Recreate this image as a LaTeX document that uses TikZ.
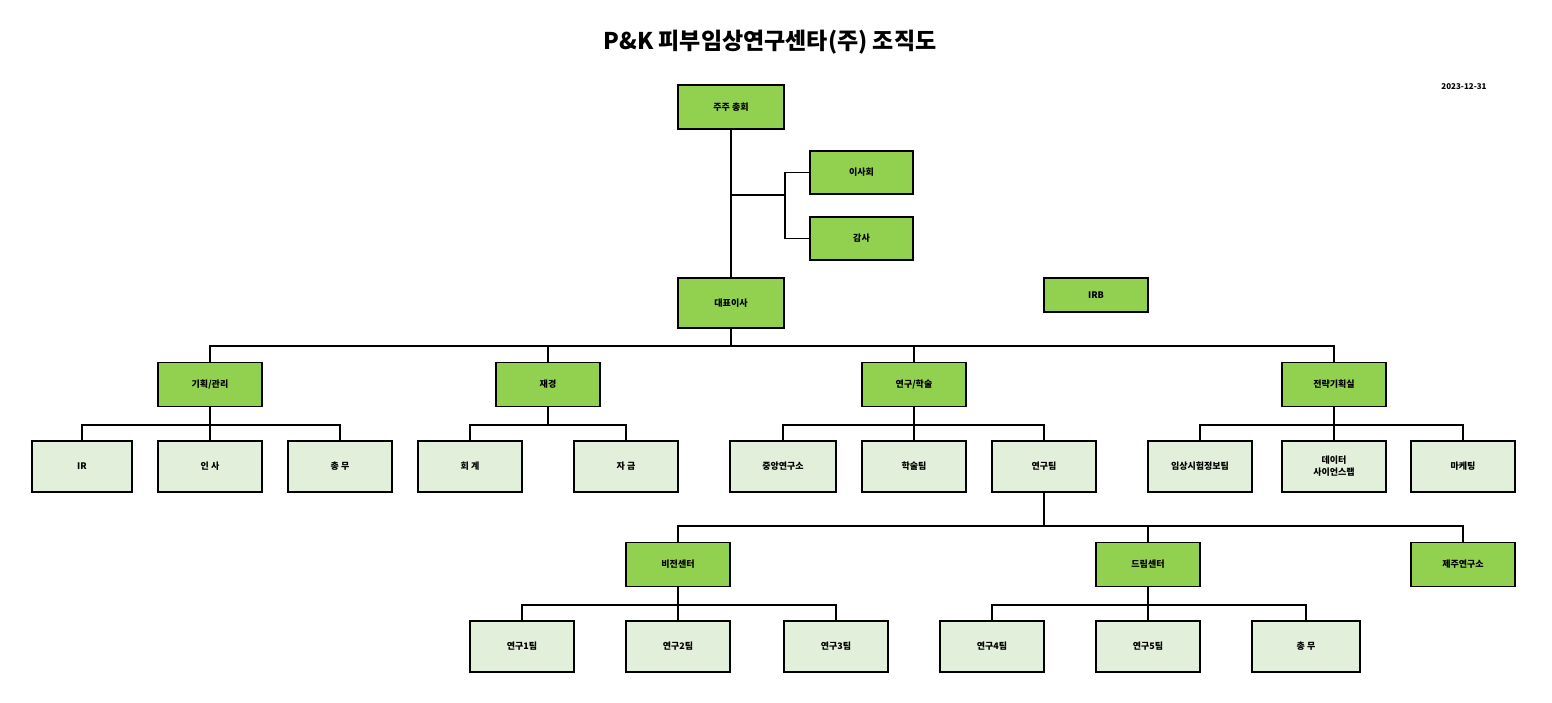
\documentclass[tikz,border=0pt]{standalone}
\usepackage{fontspec}
\setmainfont{Noto Sans CJK KR}
\definecolor{gfill}{HTML}{92D050}
\definecolor{lfill}{HTML}{E2EFDA}
\begin{document}
\begin{tikzpicture}[x=1pt,y=-1pt,
 box/.style={draw,line width=1.6pt,minimum width=104pt,minimum height=44pt,inner sep=1pt,font=\bfseries\fontsize{9}{12}\selectfont,align=center},
 gbox/.style={box,fill=gfill},
 lbox/.style={box,fill=lfill,minimum height=51pt},
 ln/.style={line width=1.4pt}]
\useasboundingbox (0,0) rectangle (1552,702);
\node[font=\bfseries\fontsize{23}{28}\selectfont] (title) at (770,42) {P\&K 피부임상연구센타(주) 조직도};
\node[font=\bfseries\fontsize{8}{10}\selectfont] (date) at (1464,87) {2023-12-31};
\node[gbox,minimum width=106pt] (ju) at (731,107) {주주 총회};
\node[gbox,minimum width=103pt,minimum height=43pt] (isa) at (861.5,172.5) {이사회};
\node[gbox,minimum width=103pt,minimum height=43pt] (gam) at (861.5,238.5) {감사};
\node[gbox,minimum width=106pt,minimum height=50pt] (ceo) at (731,303) {대표이사};
\node[gbox,minimum height=34pt] (irb) at (1096,295) {IRB};
\node[gbox] (gh) at (210,384.5) {기획/관리};
\node[gbox] (jk) at (548,384.5) {재경};
\node[gbox] (yh) at (914,384.5) {연구/학술};
\node[gbox] (jr) at (1334,384.5) {전략기획실};
\node[lbox,minimum width=100pt] (ir) at (82,466.5) {IR};
\node[lbox] (insa) at (210,466.5) {인 사};
\node[lbox] (cm1) at (340,466.5) {총 무};
\node[lbox] (hg) at (470,466.5) {회 계};
\node[lbox] (jg) at (626,466.5) {자 금};
\node[lbox,minimum width=106pt] (jy) at (783,466.5) {중앙연구소};
\node[lbox] (hs) at (914,466.5) {학술팀};
\node[lbox] (yt) at (1044,466.5) {연구팀};
\node[lbox] (im) at (1200,466.5) {임상시험정보팀};
\node[lbox] (dt) at (1334,466.5) {데이터\\사이언스랩};
\node[lbox] (mk) at (1463,466.5) {마케팅};
\node[gbox] (vs) at (678,564.5) {비전센터};
\node[gbox] (dr) at (1148,564.5) {드림센터};
\node[gbox] (jj) at (1463,564.5) {제주연구소};
\node[lbox] (y1) at (522,646.5) {연구1팀};
\node[lbox] (y2) at (678,646.5) {연구2팀};
\node[lbox] (y3) at (836,646.5) {연구3팀};
\node[lbox] (y4) at (992,646.5) {연구4팀};
\node[lbox] (y5) at (1148,646.5) {연구5팀};
\node[lbox,minimum width=108pt] (cm2) at (1306,646.5) {총 무};
% board
\draw[ln] (ju.south) -- (ceo.north);
\coordinate (bj) at (731,195);
\coordinate (bk) at (785,195);
\draw[ln] (bj) -- (bk);
\draw[ln] (isa.west) -| (bk) |- (gam.west);
% level 2
\coordinate (b2) at (731,346);
\draw[ln] (ceo.south) -- (b2);
\foreach \n in {gh,jk,yh,jr} \draw[ln] (\n.north) |- (b2);
% level 3
\foreach \p/\cs in {gh/{ir,insa,cm1},jk/{hg,jg},yh/{jy,hs,yt},jr/{im,dt,mk}} {
  \draw[ln] (\p.south) -- ++(0,17.5) coordinate (c\p);
  \foreach \c in \cs \draw[ln] (\c.north) |- (c\p);
}
% level 4
\draw[ln] (yt.south) -- ++(0,33) coordinate (cyt);
\foreach \c in {vs,dr,jj} \draw[ln] (\c.north) |- (cyt);
% level 5
\draw[ln] (vs.south) -- ++(0,17.5) coordinate (cvs);
\foreach \c in {y1,y2,y3} \draw[ln] (\c.north) |- (cvs);
\draw[ln] (dr.south) -- ++(0,17.5) coordinate (cdr);
\foreach \c in {y4,y5,cm2} \draw[ln] (\c.north) |- (cdr);
\end{tikzpicture}
\end{document}
